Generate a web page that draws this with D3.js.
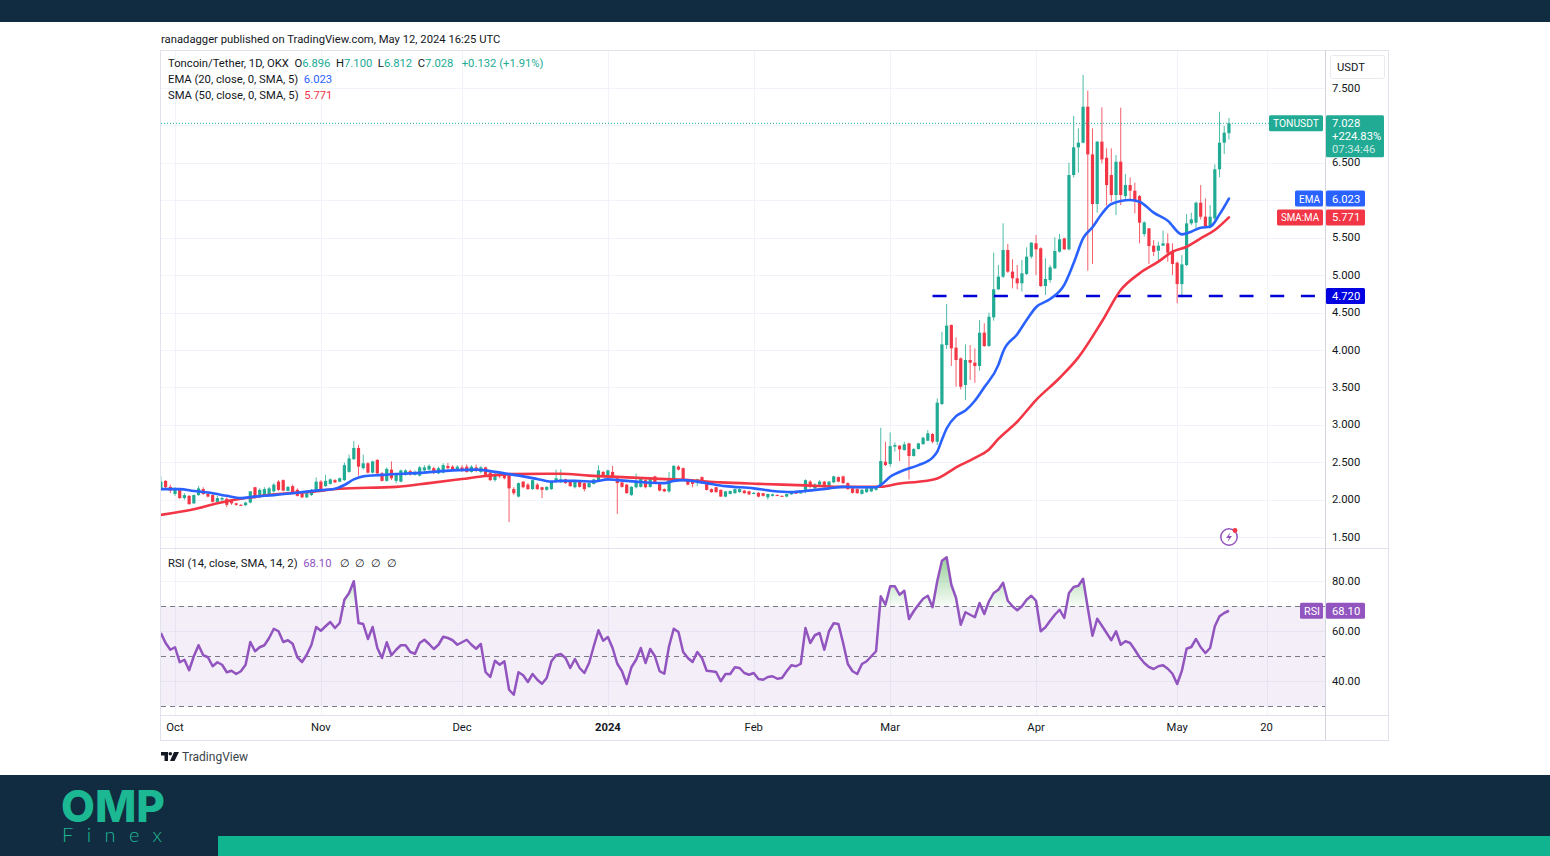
<!DOCTYPE html>
<html>
<head>
<meta charset="utf-8">
<title>TONUSDT</title>
<script src="https://cdn.jsdelivr.net/npm/d3@7"></script>
<style>
  html, body { margin: 0; padding: 0; background: #fff; }
  svg { display: block; }
  text { font-family: Roboto, sans-serif; }
</style>
</head>
<body>
<svg id="chart" width="1550" height="856"></svg>
<script>
// candles, one per day from firstDay on
var firstDay = '2023-09-28';
var opens = [
  2.14,2.25,2.17,2.075,2.14,2.02,2.05,1.95,2.06,2.14,
  2.075,2.06,1.97,2.00,2.01,1.98,1.95,1.93,1.925,1.96,
  2.165,2.04,2.06,2.06,2.11,2.24,2.26,2.115,2.18,2.13,
  2.085,2.03,2.06,2.13,2.24,2.18,2.21,2.26,2.24,2.26,
  2.37,2.54,2.69,2.42,2.485,2.36,2.53,2.35,2.25,2.40,
  2.25,2.24,2.34,2.38,2.33,2.32,2.39,2.40,2.42,2.35,
  2.36,2.45,2.44,2.40,2.43,2.44,2.37,2.43,2.37,2.43,
  2.36,2.26,2.34,2.33,2.33,2.14,2.04,2.24,2.20,2.14,
  2.20,2.165,2.13,2.14,2.24,2.23,2.27,2.25,2.165,2.24,
  2.22,2.165,2.21,2.26,2.37,2.31,2.37,2.285,2.23,2.20,
  2.06,2.165,2.17,2.26,2.17,2.31,2.22,2.14,2.11,2.26,
  2.44,2.42,2.27,2.26,2.22,2.30,2.22,2.14,2.165,2.13,
  2.04,2.075,2.085,2.10,2.12,2.11,2.075,2.09,2.085,2.03,
  2.05,2.06,2.05,2.04,2.07,2.095,2.085,2.11,2.24,2.15,
  2.20,2.24,2.14,2.23,2.30,2.31,2.22,2.15,2.14,2.075,
  2.10,2.11,2.13,2.194,2.506,2.475,2.707,2.72,2.662,2.751,
  2.582,2.675,2.742,2.787,2.876,2.773,3.277,4.065,4.333,4.03,
  3.887,3.531,3.865,3.829,3.785,4.23,4.052,4.435,4.81,4.979,
  5.335,5.046,4.957,4.89,5.015,5.246,5.425,5.358,4.854,4.934,
  5.09,5.313,5.49,5.344,6.337,6.707,6.769,7.25,6.613,5.95,
  6.783,6.568,6.337,6.07,6.515,6.056,6.203,6.128,6.056,5.548,
  5.624,5.393,5.326,5.393,5.424,5.312,5.165,4.88,5.134,5.691,
  5.70,5.967,5.78,5.646,5.758,6.413,6.769,6.896
];
var closes = [
  2.24,2.165,2.12,2.14,2.02,2.06,1.94,2.06,2.15,2.075,
  2.04,1.97,2.02,2.02,1.93,1.95,1.93,1.925,1.96,2.11,
  2.02,2.13,2.14,2.15,2.20,2.13,2.12,2.17,2.085,2.05,
  2.03,2.085,2.13,2.24,2.14,2.25,2.27,2.23,2.285,2.46,
  2.55,2.69,2.44,2.485,2.36,2.51,2.35,2.25,2.41,2.285,
  2.33,2.39,2.39,2.34,2.37,2.43,2.43,2.45,2.36,2.42,
  2.46,2.42,2.405,2.44,2.40,2.37,2.44,2.39,2.43,2.33,
  2.26,2.34,2.31,2.285,2.15,2.085,2.22,2.165,2.14,2.26,
  2.14,2.13,2.17,2.24,2.285,2.27,2.22,2.18,2.24,2.17,
  2.14,2.22,2.27,2.39,2.31,2.39,2.31,2.22,2.17,2.085,
  2.17,2.24,2.285,2.165,2.285,2.22,2.12,2.11,2.26,2.45,
  2.40,2.27,2.20,2.21,2.27,2.22,2.13,2.10,2.10,2.04,
  2.11,2.115,2.14,2.14,2.085,2.07,2.09,2.04,2.05,2.075,
  2.07,2.055,2.045,2.075,2.10,2.08,2.095,2.26,2.17,2.20,
  2.24,2.165,2.24,2.31,2.24,2.22,2.14,2.09,2.085,2.13,
  2.15,2.165,2.16,2.515,2.461,2.715,2.729,2.671,2.738,2.582,
  2.675,2.751,2.827,2.885,2.773,3.295,4.074,4.324,4.021,3.865,
  3.508,3.865,3.829,3.785,4.23,4.052,4.444,4.81,4.979,5.335,
  5.046,4.957,4.89,5.024,5.246,5.433,5.344,4.854,4.948,5.104,
  5.322,5.478,5.344,6.337,6.707,6.769,7.25,6.613,5.95,6.783,
  6.546,6.203,6.07,6.515,6.07,6.203,6.128,6.003,5.70,5.704,
  5.388,5.312,5.393,5.424,5.299,5.148,4.88,5.143,5.691,5.745,
  5.967,5.78,5.655,5.78,6.413,6.769,6.903,7.028
];
var highs = [
  2.31,2.26,2.20,2.165,2.15,2.085,2.06,2.07,2.18,2.165,
  2.11,2.085,2.05,2.04,2.03,2.00,1.96,1.94,1.97,2.115,
  2.17,2.15,2.165,2.17,2.22,2.26,2.27,2.18,2.20,2.15,
  2.11,2.09,2.14,2.295,2.26,2.33,2.285,2.275,2.295,2.495,
  2.60,2.78,2.73,2.60,2.50,2.52,2.54,2.37,2.43,2.51,
  2.36,2.40,2.405,2.40,2.39,2.45,2.46,2.47,2.44,2.44,
  2.485,2.49,2.46,2.46,2.46,2.47,2.46,2.47,2.45,2.44,
  2.37,2.36,2.36,2.35,2.34,2.165,2.23,2.25,2.22,2.27,
  2.22,2.17,2.18,2.25,2.40,2.405,2.28,2.26,2.25,2.25,
  2.23,2.23,2.28,2.46,2.38,2.40,2.45,2.30,2.24,2.21,
  2.18,2.35,2.30,2.27,2.30,2.32,2.23,2.15,2.37,2.46,
  2.46,2.43,2.28,2.27,2.28,2.31,2.23,2.15,2.17,2.135,
  2.115,2.12,2.145,2.15,2.13,2.12,2.10,2.10,2.09,2.08,
  2.08,2.07,2.055,2.08,2.105,2.10,2.10,2.27,2.26,2.22,
  2.26,2.25,2.25,2.32,2.31,2.32,2.23,2.16,2.15,2.14,
  2.16,2.17,2.17,2.96,2.773,2.898,2.764,2.729,2.773,2.76,
  2.69,2.76,2.84,2.929,2.89,3.352,4.243,4.613,4.34,4.168,
  3.90,4.074,4.065,4.021,4.399,4.355,4.497,5.30,5.135,5.692,
  5.416,5.21,5.135,5.20,5.37,5.44,5.536,5.37,5.224,5.135,
  5.505,5.55,5.50,6.50,7.126,6.961,7.674,7.464,6.961,6.79,
  7.241,6.693,6.693,6.604,7.237,6.35,6.306,6.235,6.07,5.72,
  5.63,5.468,5.446,5.593,5.557,5.424,5.18,5.268,5.816,5.834,
  5.981,6.203,6.025,5.936,6.48,7.183,6.992,7.10
];
var lows = [
  2.12,2.14,2.085,2.05,2.01,2.00,1.93,1.94,2.05,2.06,
  2.03,1.96,1.96,1.97,1.90,1.93,1.915,1.915,1.915,1.95,
  2.01,2.02,2.05,2.05,2.09,2.115,2.11,2.11,2.07,2.04,
  2.02,2.02,2.05,2.115,2.13,2.17,2.20,2.22,2.23,2.25,
  2.36,2.53,2.32,2.40,2.35,2.35,2.34,2.24,2.24,2.26,
  2.22,2.23,2.32,2.32,2.32,2.31,2.37,2.39,2.34,2.34,
  2.35,2.40,2.39,2.39,2.37,2.36,2.36,2.365,2.35,2.315,
  2.25,2.24,2.285,2.27,1.70,2.06,2.03,2.15,2.13,2.13,
  2.13,2.02,2.12,2.13,2.22,2.22,2.21,2.17,2.15,2.16,
  2.11,2.16,2.20,2.25,2.30,2.30,2.30,1.81,2.16,2.08,
  2.05,2.15,2.16,2.15,2.16,2.21,2.11,2.10,2.09,2.25,
  2.39,2.26,2.19,2.165,2.18,2.21,2.12,2.09,2.09,2.035,
  2.03,2.07,2.08,2.09,2.08,2.06,2.07,2.03,2.04,2.00,
  2.04,2.05,2.04,2.03,2.065,2.075,2.08,2.085,2.15,2.14,
  2.17,2.16,2.13,2.22,2.23,2.21,2.13,2.08,2.08,2.07,
  2.09,2.10,2.12,2.172,2.448,2.439,2.64,2.515,2.653,2.27,
  2.575,2.67,2.73,2.78,2.751,2.729,3.263,4.012,3.785,3.508,
  3.473,3.33,3.598,3.562,3.722,4.04,4.043,4.391,4.80,4.957,
  5.03,4.823,4.81,4.78,5.00,5.22,5.00,4.84,4.734,4.90,
  5.08,5.30,5.335,5.33,6.306,6.368,6.76,5.058,5.148,5.834,
  6.493,5.927,5.981,5.802,5.936,6.003,6.003,5.825,5.424,5.513,
  5.148,5.254,5.201,5.388,5.179,5.0,4.622,4.702,5.121,5.669,
  5.611,5.744,5.624,5.624,5.736,6.306,6.618,6.812
];

// moving averages: candle number + value
var emaDays = [0,4,7,11,14,17,20,24,28,33,37,39,41,43,47,56,62,67,71,74,77,80,83,85,88,92,95,97,101,104,107,109,111,114,116,120,126,130,134,137,142,145,148,152,153,155,158,161,164,165,166,167,169,171,173,175,178,179,182,184,186,189,192,194,196,198,200,202,206,208,211,214,217,219,221,223,225,227];
var emaValues = [2.14,2.14,2.115,2.085,2.05,2.02,2.04,2.06,2.085,2.12,2.145,2.195,2.27,2.31,2.33,2.36,2.39,2.40,2.37,2.34,2.31,2.275,2.24,2.25,2.25,2.24,2.27,2.26,2.24,2.225,2.22,2.25,2.26,2.24,2.22,2.18,2.15,2.115,2.10,2.115,2.15,2.17,2.165,2.165,2.194,2.305,2.395,2.461,2.56,2.64,2.80,2.95,3.116,3.19,3.32,3.50,3.80,3.977,4.21,4.40,4.57,4.68,4.87,5.16,5.49,5.64,5.82,5.95,6.003,5.981,5.834,5.727,5.544,5.58,5.633,5.646,5.811,6.023];
var smaDays = [0,7,12,18,25,32,38,50,57,64,69,74,85,91,98,105,112,119,127,137,145,153,157,161,165,167,169,173,176,178,182,186,191,195,200,204,208,212,215,218,221,224,227];
var smaValues = [1.795,1.87,1.95,2.02,2.075,2.105,2.145,2.17,2.22,2.275,2.315,2.34,2.345,2.32,2.30,2.28,2.26,2.23,2.21,2.19,2.17,2.172,2.216,2.239,2.283,2.35,2.43,2.556,2.67,2.81,3.04,3.33,3.625,3.90,4.38,4.80,5.023,5.179,5.312,5.379,5.491,5.602,5.771];

var rsiValues = [
  59.2,55.2,52.5,53.5,47.5,48.5,44.3,49.9,54.3,50.3,
  49.5,45.9,47.5,46.5,43.5,44.1,42.8,43.9,46.5,55.6,
  51.9,53.5,54.3,57.2,60.9,59.9,55.6,56.3,54.9,49.5,
  47.6,50.5,54.5,61.6,60.1,61.9,63.6,61.2,63.2,72.5,
  75.2,79.9,63.2,62.8,56.8,61.6,53.2,49.2,55.5,50.3,
  52.5,54.3,54.3,51.6,50.9,55.2,56.5,54.8,52.8,54.5,
  57.7,57.2,56.3,54.5,55.5,56.5,54.5,52.9,54.8,43.6,
  41.6,48.1,46.5,47.9,36.5,34.5,43.5,42.3,39.6,42.8,
  40.5,38.9,41.2,47.9,50.3,50.8,49.2,45.2,48.8,45.2,
  43.2,47.2,53.9,60.3,56.1,57.6,53.2,46.9,43.9,38.8,
  45.5,48.5,53.2,47.2,52.8,49.9,43.9,42.9,53.9,60.9,
  59.6,51.6,49.2,47.6,51.6,49.2,44.1,43.9,43.6,39.9,
  42.8,42.8,45.5,45.2,43.2,42.5,43.2,40.8,40.5,41.6,
  41.9,40.9,41.2,43.9,46.3,45.9,46.9,61.2,55.2,58.3,
  59.2,52.5,59.9,63.1,62.8,55.2,46.8,43.9,42.8,46.8,
  47.9,49.9,51.9,73.9,70.5,77.9,77.9,74.5,76.1,64.8,
  67.9,70.5,72.9,74.1,69.5,79.9,88.1,89.5,78.5,73.2,
  62.5,67.5,66.5,65.5,71.2,66.8,71.9,75.2,76.5,79.3,
  72.1,69.9,68.3,69.9,72.5,74.1,72.1,59.9,61.5,64.1,
  66.5,68.5,65.2,75.2,77.6,78.1,80.9,69.2,58.1,64.9,
  62.1,59.2,56.3,59.9,54.5,55.9,55.2,52.5,49.5,47.2,
  45.6,44.8,45.9,46.3,44.9,42.9,38.8,44.1,52.9,53.6,
  56.8,53.5,51.2,53.2,61.9,65.9,67.2,68.1
];

// axes
var priceTicks = [7.5, 6.5, 5.5, 5, 4.5, 4, 3.5, 3, 2.5, 2, 1.5];
var priceGrid = [7.5, 7, 6.5, 6, 5.5, 5, 4.5, 4, 3.5, 3, 2.5, 2, 1.5];
var rsiTicks = [80, 60, 40];
var rsiLevels = [70, 50, 30];
var timeTicks = ['2023-10-01','2023-11-01','2023-12-01','2024-01-01','2024-02-01','2024-03-01','2024-04-01','2024-05-01','2024-05-20'];
var timeLabels = ['Oct','Nov','Dec','2024','Feb','Mar','Apr','May','20'];

var lastPrice = 7.028, lastEma = 6.023, lastSma = 5.771, lastRsi = 68.10, support = 4.72;
var supportFrom = '2024-03-10';

var green = '#22ab94', red = '#f23645', blue = '#2962ff', purple = '#9254bf', navy = '#112b40', teal = '#10b48e', ink = '#131722';

var fontSize = 11.25;
var left = 161, right = 1325, axisRight = 1388, top1 = 51, bottom1 = 548, bottom2 = 715, bottom3 = 740;
var step = 4.705;

var svg = d3.select('#chart');
var day = 864e5;
var t0 = new Date(firstDay + 'T00:00:00Z');
function dateOf(i) { return new Date(+t0 + i * day); }

var x = d3.scaleUtc()
  .domain([t0, dateOf(227)])
  .range([160.9, 160.9 + step * 227]);
var y = d3.scaleLinear().domain([7.5, 1.5]).range([88, 537]);
var yRsi = d3.scaleLinear().domain([70, 30]).range([606, 706]);

var defs = svg.append('defs');
defs.append('clipPath').attr('id', 'pane1').append('rect')
  .attr('x', left).attr('y', top1).attr('width', right - left).attr('height', bottom1 - top1);
defs.append('clipPath').attr('id', 'pane2').append('rect')
  .attr('x', left).attr('y', bottom1).attr('width', right - left).attr('height', bottom2 - bottom1);
defs.append('clipPath').attr('id', 'over').append('rect')
  .attr('x', left).attr('y', bottom1).attr('width', right - left).attr('height', yRsi(70) - bottom1);
var grad = defs.append('linearGradient').attr('id', 'overFill')
  .attr('gradientUnits', 'userSpaceOnUse')
  .attr('x1', 0).attr('x2', 0).attr('y1', yRsi(90)).attr('y2', yRsi(70));
grad.append('stop').attr('offset', 0).attr('stop-color', '#4caf50').attr('stop-opacity', 0.6);
grad.append('stop').attr('offset', 1).attr('stop-color', '#4caf50').attr('stop-opacity', 0.04);

// page bands
svg.append('rect').attr('width', 1550).attr('height', 22).attr('fill', navy);
svg.append('rect').attr('y', 775).attr('width', 1550).attr('height', 81).attr('fill', navy);
svg.append('rect').attr('x', 218).attr('y', 836).attr('width', 1332).attr('height', 20).attr('fill', teal);
svg.append('text').text('OMP').attr('x', 61).attr('y', 822)
  .attr('font-size', 44).attr('font-weight', 800).attr('fill', '#1cb893')
  .style('font-family', 'Inter, sans-serif').attr('textLength', 104).attr('lengthAdjust', 'spacingAndGlyphs');
svg.append('text').text('Finex').attr('x', 62).attr('y', 842)
  .attr('font-size', 20).attr('font-weight', 300).attr('fill', '#1cb893')
  .style('font-family', 'Lato, sans-serif').attr('textLength', 100);

svg.append('text').text('ranadagger published on TradingView.com, May 12, 2024 16:25 UTC')
  .attr('x', 161).attr('y', 43).attr('font-size', fontSize).attr('fill', ink);

// grid
var grid = svg.append('g').attr('stroke', '#f0f3fa').attr('stroke-width', 1);
grid.selectAll('.h').data(priceGrid).enter().append('line')
  .attr('x1', left).attr('x2', right)
  .attr('y1', function(d) { return Math.round(y(d)) + 0.5; })
  .attr('y2', function(d) { return Math.round(y(d)) + 0.5; });
grid.selectAll('.r').data(rsiTicks).enter().append('line')
  .attr('x1', left).attr('x2', right)
  .attr('y1', function(d) { return Math.round(yRsi(d)) + 0.5; })
  .attr('y2', function(d) { return Math.round(yRsi(d)) + 0.5; });
grid.selectAll('.v').data(timeTicks).enter().append('line')
  .attr('y1', top1).attr('y2', bottom2)
  .attr('x1', function(d) { return Math.round(x(new Date(d + 'T00:00:00Z'))) + 0.5; })
  .attr('x2', function(d) { return Math.round(x(new Date(d + 'T00:00:00Z'))) + 0.5; });

// rsi background and levels
svg.append('rect').attr('x', left).attr('width', right - left)
  .attr('y', yRsi(70)).attr('height', yRsi(30) - yRsi(70))
  .attr('fill', purple).attr('fill-opacity', 0.1);
svg.selectAll('.level').data(rsiLevels).enter().append('line')
  .attr('x1', left).attr('x2', right)
  .attr('y1', function(d) { return yRsi(d) + 0.5; })
  .attr('y2', function(d) { return yRsi(d) + 0.5; })
  .attr('stroke', '#787b86').attr('stroke-dasharray', '5 4');

// candles
var candles = svg.append('g').attr('clip-path', 'url(#pane1)');
var idx = d3.range(opens.length);
candles.selectAll('.wick').data(idx).enter().append('line')
  .attr('x1', function(i) { return x(dateOf(i)); })
  .attr('x2', function(i) { return x(dateOf(i)); })
  .attr('y1', function(i) { return y(highs[i]); })
  .attr('y2', function(i) { return y(lows[i]); })
  .attr('stroke-width', 1)
  .attr('stroke', function(i) { return closes[i] >= opens[i] ? green : red; })
  .attr('stroke-opacity', 0.8);
candles.selectAll('.body').data(idx).enter().append('rect')
  .attr('x', function(i) { return x(dateOf(i)) - 1.6; })
  .attr('width', 3.2)
  .attr('y', function(i) { return y(Math.max(opens[i], closes[i])); })
  .attr('height', function(i) { return Math.max(1, Math.abs(y(opens[i]) - y(closes[i]))); })
  .attr('fill', function(i) { return closes[i] >= opens[i] ? green : red; });

// last price line and support level
svg.append('line').attr('x1', left).attr('x2', right)
  .attr('y1', y(lastPrice)).attr('y2', y(lastPrice))
  .attr('stroke', green).attr('stroke-dasharray', '1 2');
svg.append('line').attr('x1', x(new Date(supportFrom + 'T00:00:00Z'))).attr('x2', right)
  .attr('y1', y(support)).attr('y2', y(support))
  .attr('stroke', '#0000d8').attr('stroke-width', 2.6).attr('stroke-dasharray', '14 16.7');

// moving averages
function maLine(days, values, color) {
  var line = d3.line()
    .x(function(d) { return x(dateOf(d)); })
    .y(function(d, i) { return y(values[i]); })
    .curve(d3.curveMonotoneX);
  svg.append('path').attr('d', line(days))
    .attr('clip-path', 'url(#pane1)')
    .attr('fill', 'none').attr('stroke', color).attr('stroke-width', 2.6)
    .attr('stroke-linejoin', 'round').attr('stroke-linecap', 'round');
}
maLine(smaDays, smaValues, red);
maLine(emaDays, emaValues, blue);

// rsi line with the fill above 70
var rsiArea = d3.area()
  .x(function(d, i) { return x(dateOf(i)); })
  .y0(yRsi(70))
  .y1(function(d) { return yRsi(d); });
svg.append('path').attr('d', rsiArea(rsiValues))
  .attr('clip-path', 'url(#over)').attr('fill', 'url(#overFill)');
var rsiLine = d3.line()
  .x(function(d, i) { return x(dateOf(i)); })
  .y(function(d) { return yRsi(d); });
svg.append('path').attr('d', rsiLine(rsiValues))
  .attr('clip-path', 'url(#pane2)')
  .attr('fill', 'none').attr('stroke', purple).attr('stroke-width', 2.5)
  .attr('stroke-linejoin', 'round');

// frame
var frame = svg.append('g').attr('stroke', '#e0e3eb').attr('fill', 'none');
frame.append('rect').attr('x', 160.5).attr('y', 50.5).attr('width', axisRight - 160).attr('height', bottom3 - 50);
frame.append('line').attr('x1', 160).attr('x2', axisRight).attr('y1', bottom1 + 0.5).attr('y2', bottom1 + 0.5);
frame.append('line').attr('x1', 160).attr('x2', axisRight).attr('y1', bottom2 + 0.5).attr('y2', bottom2 + 0.5);
frame.append('line').attr('x1', right + 0.5).attr('x2', right + 0.5).attr('y1', 50).attr('y2', bottom3).attr('stroke', '#d1d4dc');

// axes
function styleAxis(g) {
  g.select('.domain').remove();
  g.selectAll('.tick line').remove();
  g.selectAll('.tick text').attr('fill', ink).attr('font-size', fontSize)
    .style('font-family', 'Roboto, sans-serif');
}
svg.append('g').attr('transform', 'translate(' + (right + 7) + ',-0.5)')
  .call(d3.axisRight(y).tickValues(priceTicks).tickFormat(d3.format('.3f')).tickSize(0).tickPadding(0))
  .call(styleAxis);
svg.append('g').attr('transform', 'translate(' + (right + 7) + ',-0.5)')
  .call(d3.axisRight(yRsi).tickValues(rsiTicks).tickFormat(d3.format('.2f')).tickSize(0).tickPadding(0))
  .call(styleAxis);
var timeAxis = d3.axisBottom(x)
  .tickValues(timeTicks.map(function(d) { return new Date(d + 'T00:00:00Z'); }))
  .tickFormat(function(d, i) { return timeLabels[i]; })
  .tickSize(0).tickPadding(0);
var tg = svg.append('g').attr('transform', 'translate(-0.5,' + (bottom2 + 7.5) + ')').call(timeAxis).call(styleAxis);
tg.selectAll('.tick text').attr('font-weight', function(d, i) { return timeLabels[i] === '2024' ? 700 : 400; });

// labels on the price scale
function tag(x0, w, yMid, h, color, anchorX, txt, fitTo) {
  svg.append('rect').attr('x', x0).attr('y', yMid - h / 2).attr('width', w).attr('height', h)
    .attr('rx', 1.5).attr('fill', color);
  var t = svg.append('text').attr('x', anchorX).attr('y', yMid + 4).attr('font-size', fontSize)
    .attr('fill', '#fff').text(txt);
  if (fitTo) t.attr('textLength', fitTo).attr('lengthAdjust', 'spacingAndGlyphs');
}
tag(1269, 54, y(lastPrice), 16, green, 1273, 'TONUSDT', 46);
svg.append('rect').attr('x', 1326).attr('y', y(lastPrice) - 8).attr('width', 58).attr('height', 42).attr('rx', 1.5).attr('fill', green);
svg.append('text').attr('x', 1332).attr('y', y(lastPrice) + 4).attr('font-size', fontSize).attr('fill', '#fff').text(d3.format('.3f')(lastPrice));
svg.append('text').attr('x', 1332).attr('y', y(lastPrice) + 17).attr('font-size', fontSize).attr('fill', '#fff').text('+224.83%');
svg.append('text').attr('x', 1332).attr('y', y(lastPrice) + 30).attr('font-size', fontSize).attr('fill', '#fff').attr('fill-opacity', 0.75).text('07:34:46');
tag(1295, 28, y(lastEma), 16, blue, 1299, 'EMA', 21);
tag(1326, 39, y(lastEma), 16, blue, 1332, d3.format('.3f')(lastEma));
tag(1277, 46, y(lastSma), 16, red, 1281, 'SMA:MA', 38);
tag(1326, 39, y(lastSma), 16, red, 1332, d3.format('.3f')(lastSma));
tag(1326, 39, y(support), 16, '#0000e0', 1332, d3.format('.3f')(support));
tag(1300, 23, yRsi(lastRsi), 16, purple, 1304, 'RSI', 16);
tag(1326, 39, yRsi(lastRsi), 16, purple, 1332, d3.format('.2f')(lastRsi));

svg.append('rect').attr('x', 1330.5).attr('y', 55.5).attr('width', 54).attr('height', 23).attr('rx', 2)
  .attr('fill', '#fff').attr('stroke', '#e8eaf0');
svg.append('text').text('USDT').attr('x', 1337).attr('y', 71).attr('font-size', fontSize).attr('fill', ink);

// legends
function legend(xp, yp, parts) {
  var t = svg.append('text').attr('x', xp).attr('y', yp).attr('font-size', fontSize).attr('fill', ink)
    .attr('xml:space', 'preserve').style('white-space', 'pre');
  parts.forEach(function(p) {
    t.append('tspan').attr('fill', p[1] || ink).text(p[0]);
  });
}
legend(168, 67, [['Toncoin/Tether, 1D, OKX  O'], ['6.896', green], ['  H'], ['7.100', green], ['  L'], ['6.812', green], ['  C'], ['7.028', green], ['   +0.132 (+1.91%)', green]]);
legend(168, 83, [['EMA (20, close, 0, SMA, 5)  '], ['6.023', blue]]);
legend(168, 99, [['SMA (50, close, 0, SMA, 5)  '], ['5.771', red]]);
legend(168, 567, [['RSI (14, close, SMA, 14, 2)  '], ['68.10', purple], ['   ∅  ∅  ∅  ∅']]);

// tradingview mark
var mark = svg.append('g').attr('transform', 'translate(161,752)').attr('fill', ink);
mark.append('path').attr('d', 'M0 0H7V9H3.5V3.5H0Z');
mark.append('circle').attr('cx', 9.3).attr('cy', 1.8).attr('r', 1.8);
mark.append('path').attr('d', 'M13 0H18L13.5 9H9Z');
svg.append('text').text('TradingView').attr('x', 182).attr('y', 761).attr('font-size', 12).attr('fill', '#3b3f4a');

// lightning badge
var badge = svg.append('g').attr('transform', 'translate(1229,537)');
badge.append('circle').attr('r', 8.2).attr('fill', '#fff').attr('stroke', purple).attr('stroke-width', 1.5);
badge.append('path').attr('d', 'M1.5 -5L-3 1H0L-1.5 5L3 -1H0Z').attr('fill', purple);
badge.append('circle').attr('cx', 6).attr('cy', -6.5).attr('r', 2.4).attr('fill', red);
</script>
</body>
</html>
